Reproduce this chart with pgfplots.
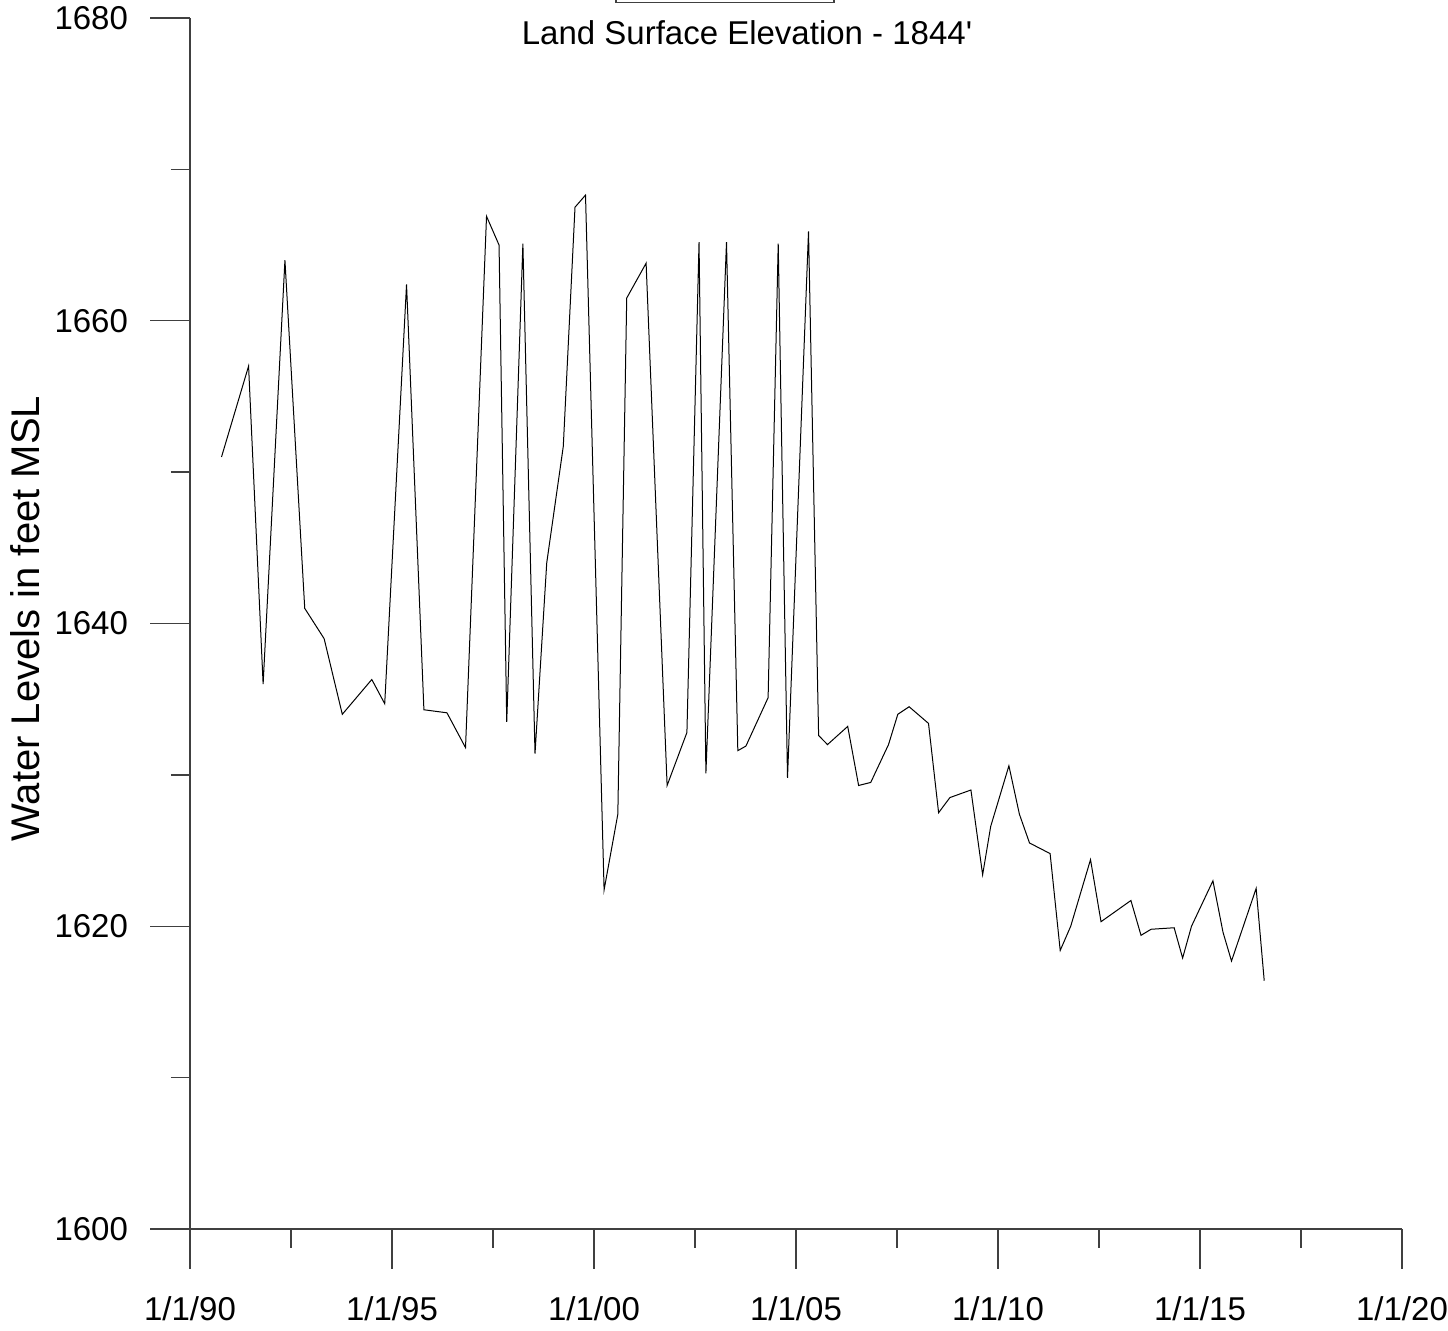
\documentclass[border=0pt]{standalone}
\usepackage{fontspec}
\setmainfont{Liberation Sans}
\usepackage{pgfplots}
\pgfplotsset{compat=1.18}

\pgfplotstableread{
year    level
1990.78 1651.0
1991.45 1657.0
1991.81 1636.0
1992.35 1664.0
1992.84 1641.0
1993.32 1639.0
1993.77 1634.0
1994.50 1636.3
1994.82 1634.7
1995.36 1662.4
1995.79 1634.3
1996.36 1634.1
1996.82 1631.8
1997.34 1666.9
1997.65 1665.0
1997.84 1633.5
1998.24 1665.1
1998.54 1631.4
1998.83 1644.0
1999.24 1651.7
1999.53 1667.5
1999.79 1668.3
2000.25 1622.4
2000.59 1627.4
2000.81 1661.5
2001.29 1663.8
2001.81 1629.3
2002.30 1632.8
2002.60 1665.2
2002.77 1630.1
2003.28 1665.2
2003.56 1631.6
2003.76 1631.9
2004.31 1635.1
2004.56 1665.1
2004.79 1629.8
2005.31 1665.9
2005.56 1632.6
2005.78 1632.0
2006.28 1633.2
2006.55 1629.3
2006.85 1629.5
2007.29 1632.0
2007.52 1634.0
2007.80 1634.5
2008.28 1633.4
2008.53 1627.5
2008.81 1628.5
2009.33 1629.0
2009.62 1623.4
2009.82 1626.6
2010.27 1630.6
2010.53 1627.4
2010.78 1625.5
2011.29 1624.8
2011.54 1618.4
2011.80 1620.0
2012.29 1624.4
2012.55 1620.3
2013.29 1621.7
2013.54 1619.4
2013.79 1619.8
2014.36 1619.9
2014.57 1617.9
2014.79 1620.0
2015.32 1623.0
2015.57 1619.6
2015.78 1617.7
2016.39 1622.5
2016.59 1616.4
}\wells

\begin{document}
\begin{tikzpicture}
\begin{axis}[
    at={(0pt,0pt)}, anchor=south west,
    width=606pt, height=605.5pt, scale only axis,
    xmin=1990, xmax=2020, ymin=1600, ymax=1680,
    axis x line*=bottom, axis y line*=left,
    axis line style={black!75, line width=0.65pt},
    xtick={1990,1995,...,2020},
    xticklabels={1/1/90,1/1/95,1/1/00,1/1/05,1/1/10,1/1/15,1/1/20},
    minor xtick={1992.5,1997.5,...,2017.5},
    ytick={1600,1620,...,1680},
    minor ytick={1610,1630,1650,1670},
    tick align=outside,
    major tick length=20pt, minor tick length=9.5pt,
    tick style={black!75, line width=0.65pt},
    /pgf/number format/assume math mode=true,
    /pgf/number format/1000 sep={},
    tick label style={font=\fontsize{16.5}{19}\selectfont},
    xticklabel style={yshift=-10.5pt},
    yticklabel style={xshift=-7.5pt},
    every axis y label/.style={at={(axis description cs:-0.136,0.504)}, rotate=90, anchor=center},
    ylabel={\fontsize{20}{24}\selectfont Water Levels in feet MSL},
]
\addplot[black, line width=0.5pt] table[x=year, y=level] {\wells};
\node[anchor=base, font=\fontsize{16.5}{20}\selectfont, inner sep=0pt]
    at (axis description cs:0.4596,0.9777) {Land Surface Elevation - 1844\textquotesingle};
\end{axis}
\draw[black!75, line width=0.65pt] (213pt,640pt) rectangle (322pt,613.4pt);
\pgfresetboundingbox
\useasboundingbox (-95pt,-51pt) rectangle (629pt,614.5pt);
\end{tikzpicture}
\end{document}
